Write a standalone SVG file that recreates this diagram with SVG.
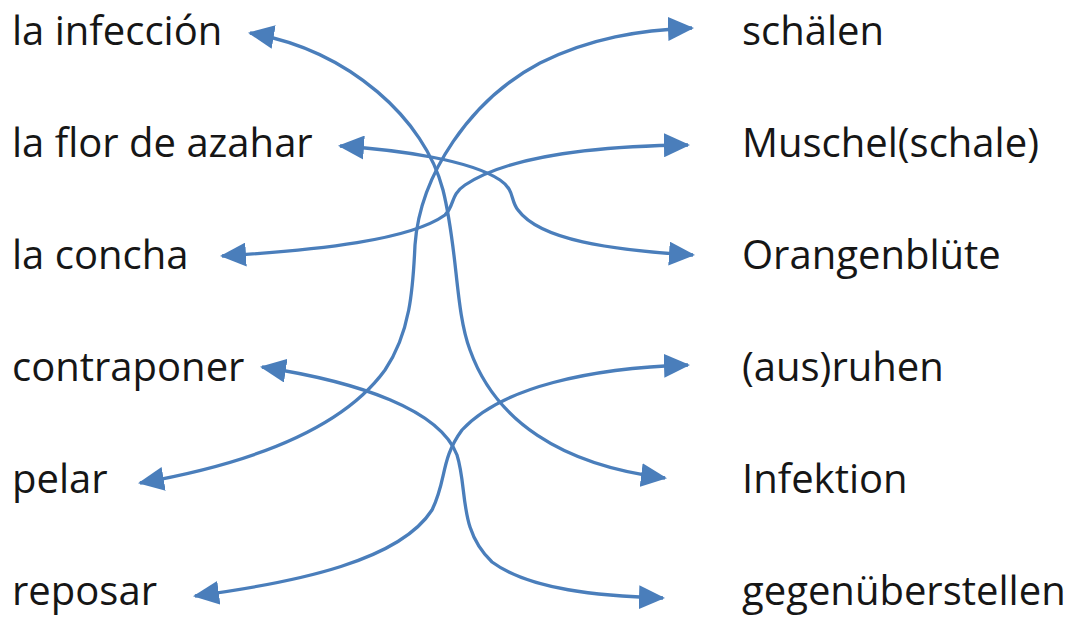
<svg xmlns="http://www.w3.org/2000/svg" width="1072" height="617" viewBox="0 0 1072 617">
<style>
.t{font-family:"Open Sans","Liberation Sans",sans-serif;font-size:40px;fill:#161616}
.c{fill:none;stroke:#4a7ebb;stroke-width:3.3;marker-start:url(#ah);marker-end:url(#ah)}
</style>
<defs>
<marker id="ah" markerUnits="userSpaceOnUse" markerWidth="28" markerHeight="24" refX="24" refY="12" orient="auto-start-reverse" viewBox="0 0 28 24">
<path d="M0,0 L26,12 L0,24 Z" fill="#4a7ebb"/>
</marker>
</defs>
<rect width="1072" height="617" fill="#fff"/>
<g id="left">
<g id="n-infeccion"><text class="t" x="12" y="45">la infección</text></g>
<g id="n-flor"><text class="t" x="12" y="157">la flor de azahar</text></g>
<g id="n-concha"><text class="t" x="12" y="269">la concha</text></g>
<g id="n-contraponer"><text class="t" x="12" y="381">contraponer</text></g>
<g id="n-pelar"><text class="t" x="12" y="493">pelar</text></g>
<g id="n-reposar"><text class="t" x="12" y="605">reposar</text></g>
</g>
<g id="right">
<g id="n-schaelen"><text class="t" x="742" y="45">schälen</text></g>
<g id="n-muschel"><text class="t" x="742" y="157">Muschel(schale)</text></g>
<g id="n-orangenbluete"><text class="t" x="742" y="269">Orangenblüte</text></g>
<g id="n-ausruhen"><text class="t" x="742" y="381">(aus)ruhen</text></g>
<g id="n-infektion"><text class="t" x="742" y="493">Infektion</text></g>
<g id="n-gegenueber"><text class="t" x="742" y="605">gegenüberstellen</text></g>
</g>
<g id="connectors">
<path class="c" d="M250,33 C350,50 425,120 443,190 C458,250 455,310 470,350 C495,420 560,465 665,478"/>
<path class="c" d="M340,146 C400,150 470,160 500,180 C515,190 510,200 518,210 C540,240 610,250 693,255"/>
<path class="c" d="M222,256 C320,250 410,240 445,215 C455,205 450,195 465,185 C510,155 600,146 688,145"/>
<path class="c" d="M140,483 C260,462 345,425 385,370 C410,333 413,290 415,245 C420,175 470,100 540,63 C590,38 640,30 692,28"/>
<path class="c" d="M262,367 C360,382 440,410 457,455 C468,490 458,530 492,562 C530,590 600,596 663,598"/>
<path class="c" d="M195,596 C300,582 400,560 432,510 C447,480 440,460 462,430 C502,387 590,368 688,365"/>
</g>
</svg>
